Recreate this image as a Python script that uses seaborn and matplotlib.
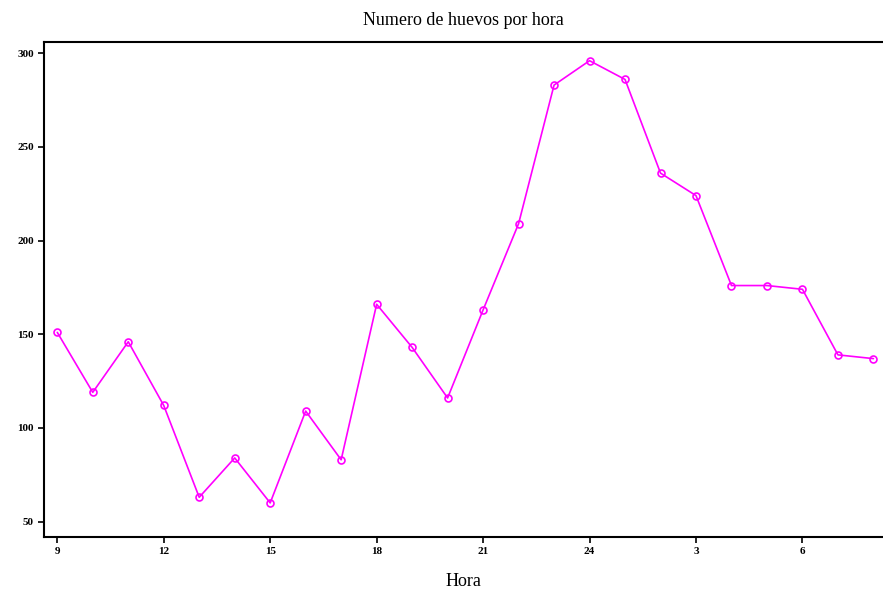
import seaborn as sns
import pandas as pd
import matplotlib.pyplot as plt

# Hours of the day (9h to 8h next morning)
horas = [9, 10, 11, 12, 13, 14, 15, 16, 17, 18, 19, 20, 21, 22, 23, 24,
         1, 2, 3, 4, 5, 6, 7, 8]
huevos = [151, 119, 146, 112, 63, 84, 60, 109, 83, 166, 143, 116,
          163, 209, 283, 296, 286, 236, 224, 176, 176, 174, 139, 137]
tick_labels = ['9', '12', '15', '18', '21', '24', '3', '6']

df = pd.DataFrame({'orden': range(len(horas)), 'hora': horas, 'huevos': huevos})

sns.set_style('white')
plt.rcParams['font.family'] = ['Liberation Serif', 'DejaVu Serif']
plt.rcParams['text.color'] = 'black'
plt.rcParams['axes.labelcolor'] = 'black'

fig = plt.figure(figsize=(8.83, 5.91), dpi=100)
ax = fig.add_axes([0.05, 0.092, 0.95, 0.837])

sns.lineplot(data=df, x='orden', y='huevos', ax=ax, color='#ff00ff',
             linewidth=1.2, marker='o', markersize=5,
             markerfacecolor='none', markeredgecolor='#ff00ff',
             markeredgewidth=1.2)

# Tick every 3 hours
ticks = df['orden'][::3]
ax.set_xticks(ticks)
ax.set_xticklabels(tick_labels, fontsize=8, fontweight='bold')
ax.set_yticks([50, 100, 150, 200, 250, 300])
for lab in ax.get_yticklabels():
    lab.set_fontsize(8)
    lab.set_fontweight('bold')
ax.tick_params(axis='both', direction='out', length=4, width=1.2,
               bottom=True, left=True, color='black', labelcolor='black')

ax.set_xlim(-0.37, 23.27)
ax.set_ylim(42, 306)

for s in ['left', 'bottom', 'top']:
    ax.spines[s].set_color('black')
    ax.spines[s].set_linewidth(1.5)
ax.spines['right'].set_visible(False)

ax.set_xlabel('Hora', fontsize=13, labelpad=12)
ax.set_ylabel('')
ax.set_title('Numero de huevos por hora', fontsize=13, pad=12)

fig.savefig('out.png', dpi=100)
